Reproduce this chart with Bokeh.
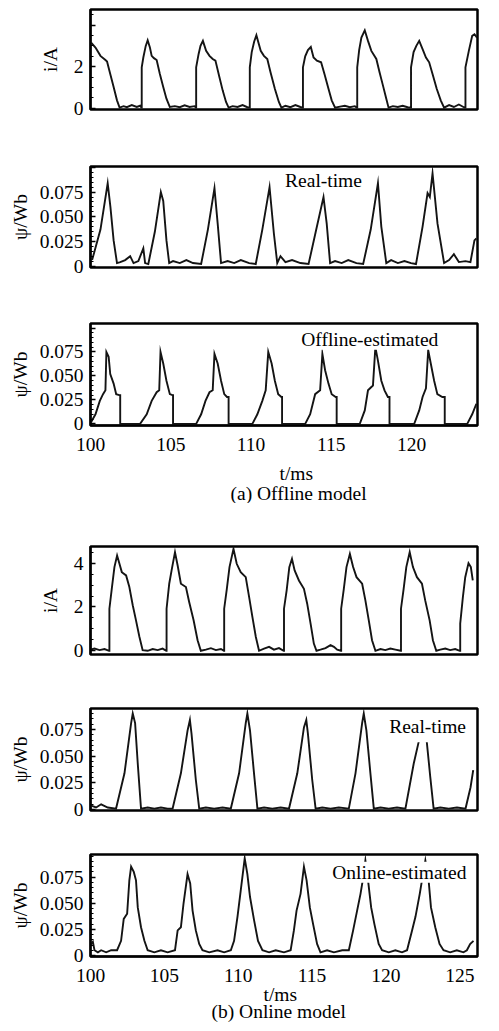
import json
from bokeh.plotting import figure
from bokeh.models import Range1d, FixedTicker, Label, CustomJSTickFormatter, Title
from bokeh.layouts import column
from bokeh.embed import file_html
from bokeh.resources import INLINE

FONT = "Liberation Serif"

# ---------------- data ----------------
# time axis ticks (ms)
X_TICKS = [100, 105, 110, 115, 120, 125]
X_TICK_LABELS = ["100", "105", "110", "115", "120", "125"]

CUR_TICKS = [0, 2, 4]
CUR_TICK_LABELS_OFF = ["0", "2", ""]
CUR_TICK_LABELS_ON = ["0", "2", "4"]

FLUX_TICKS = [0, 0.025, 0.05, 0.075, 0.1]
FLUX_TICK_LABELS = ["0", "0.025", "0.050", "0.075", ""]

# (a) offline model: phase current i/A  (t ms, value)
I_OFF = [
    (100.04, 3.16), (100.31, 2.92), (100.62, 2.52), (100.93, 2.32), (101.03, 2.25), (101.23, 1.65), (101.44, 1.02), (101.65, 0.38), (101.81, 0.03),
    (102.06, 0.10), (102.26, 0.05), (102.57, 0.15), (102.88, 0.06), (103.09, 0.12), (103.17, 0.03),
    (103.19, 0.03), (103.19, 1.97), (103.29, 2.44), (103.44, 3.00), (103.56, 3.27), (103.70, 2.92), (103.81, 2.52), (103.95, 2.41), (104.12, 2.32), (104.32, 1.65), (104.53, 1.02), (104.73, 0.46), (104.94, 0.06),
    (105.25, 0.10), (105.56, 0.05), (105.86, 0.14), (106.17, 0.06), (106.48, 0.10), (106.56, 0.03),
    (106.58, 0.03), (106.58, 1.97), (106.73, 2.60), (106.85, 3.00), (107.00, 3.24), (107.20, 2.76), (107.41, 2.52), (107.61, 2.37), (107.78, 2.29), (108.03, 1.49), (108.23, 0.86), (108.44, 0.30), (108.60, 0.03),
    (108.85, 0.10), (109.16, 0.06), (109.47, 0.15), (109.77, 0.05), (109.90, 0.03),
    (109.92, 0.03), (109.92, 1.97), (110.04, 2.70), (110.19, 3.20), (110.33, 3.51), (110.60, 2.76), (110.80, 2.52), (111.01, 2.37), (111.21, 1.73), (111.48, 0.94), (111.73, 0.30), (111.89, 0.03),
    (112.14, 0.12), (112.45, 0.05), (112.76, 0.15), (113.07, 0.06), (113.21, 0.03),
    (113.23, 0.03), (113.23, 1.97), (113.37, 2.50), (113.54, 2.80), (113.72, 2.95), (113.89, 2.44), (114.10, 2.29), (114.36, 2.21), (114.57, 1.65), (114.82, 0.94), (115.02, 0.38), (115.23, 0.03),
    (115.54, 0.08), (115.84, 0.12), (116.15, 0.05), (116.46, 0.10), (116.58, 0.03),
    (116.61, 0.03), (116.61, 1.97), (116.73, 2.80), (116.87, 3.40), (117.08, 3.75), (117.28, 3.24), (117.49, 2.76), (117.80, 2.37), (118.00, 1.73), (118.21, 1.10), (118.42, 0.46), (118.56, 0.03),
    (118.83, 0.10), (119.14, 0.06), (119.44, 0.12), (119.75, 0.05), (119.94, 0.03),
    (119.96, 0.03), (119.96, 1.97), (120.12, 2.70), (120.29, 3.00), (120.47, 3.24), (120.68, 2.84), (120.89, 2.44), (121.09, 2.21), (121.30, 1.65), (121.56, 0.94), (121.81, 0.38), (122.02, 0.03),
    (122.33, 0.15), (122.63, 0.06), (122.94, 0.18), (123.25, 0.05), (123.33, 0.03),
    (123.35, 0.03), (123.35, 1.97), (123.56, 2.76), (123.77, 3.48), (123.91, 3.56), (124.07, 3.40),
]

# (a) offline model: real-time flux linkage psi/Wb
PSI_RT_OFF = [
    (100.10, 0.006), (100.62, 0.037), (101.07, 0.084), (101.24, 0.060), (101.44, 0.026), (101.65, 0.003),
    (101.85, 0.004), (102.16, 0.006), (102.47, 0.010), (102.68, 0.003), (102.98, 0.005), (103.29, 0.018), (103.40, 0.003), (103.60, 0.002),
    (104.01, 0.035), (104.38, 0.075), (104.53, 0.066), (104.73, 0.026), (104.90, 0.003),
    (105.14, 0.005), (105.56, 0.003), (105.97, 0.006), (106.38, 0.003), (106.89, 0.002),
    (107.31, 0.037), (107.72, 0.079), (107.92, 0.043), (108.13, 0.003),
    (108.54, 0.005), (108.95, 0.003), (109.36, 0.006), (109.88, 0.003), (110.29, 0.002),
    (110.70, 0.037), (111.15, 0.080), (111.42, 0.033), (111.63, 0.003),
    (111.83, 0.010), (112.14, 0.004), (112.55, 0.006), (113.07, 0.003), (113.58, 0.002),
    (114.03, 0.035), (114.51, 0.070), (114.71, 0.043), (114.92, 0.003),
    (115.23, 0.005), (115.64, 0.003), (116.05, 0.006), (116.56, 0.003), (116.98, 0.002),
    (117.45, 0.037), (117.90, 0.084), (118.11, 0.040), (118.42, 0.003),
    (118.72, 0.006), (119.14, 0.003), (119.55, 0.005), (119.96, 0.003), (120.27, 0.002),
    (120.68, 0.040), (120.99, 0.074), (121.13, 0.070), (121.30, 0.094), (121.61, 0.043), (122.02, 0.003),
    (122.33, 0.006), (122.63, 0.012), (122.94, 0.004), (123.35, 0.005), (123.66, 0.004),
    (123.91, 0.026), (124.03, 0.028),
]

# (a) offline model: offline-estimated flux linkage psi/Wb
PSI_EST_OFF = [
    (100.04, 0.002), (100.31, 0.010), (100.58, 0.024), (100.78, 0.031), (100.93, 0.035), (100.99, 0.075), (101.13, 0.070), (101.23, 0.052), (101.44, 0.042), (101.60, 0.031), (101.79, 0.030), (101.85, 0.030), (101.85, 0.0),
    (103.09, 0.0),
    (103.50, 0.010), (103.81, 0.024), (104.12, 0.033), (104.28, 0.035), (104.36, 0.075), (104.53, 0.063), (104.73, 0.045), (104.94, 0.031), (105.10, 0.030), (105.14, 0.030), (105.14, 0.0),
    (106.58, 0.0),
    (106.89, 0.010), (107.16, 0.024), (107.41, 0.033), (107.61, 0.035), (107.72, 0.073), (107.92, 0.063), (108.13, 0.045), (108.33, 0.031), (108.50, 0.028), (108.60, 0.028), (108.60, 0.0),
    (110.08, 0.0),
    (110.39, 0.010), (110.70, 0.024), (110.91, 0.035), (111.07, 0.075), (111.28, 0.063), (111.48, 0.045), (111.69, 0.031), (111.89, 0.028), (111.93, 0.028), (111.93, 0.0),
    (113.37, 0.0),
    (113.68, 0.010), (113.99, 0.031), (114.30, 0.035), (114.44, 0.073), (114.61, 0.056), (114.82, 0.042), (115.02, 0.031), (115.27, 0.028), (115.33, 0.028), (115.33, 0.0),
    (116.77, 0.0),
    (117.08, 0.014), (117.28, 0.035), (117.59, 0.040), (117.74, 0.080), (117.90, 0.066), (118.11, 0.045), (118.31, 0.035), (118.52, 0.028), (118.62, 0.028), (118.62, 0.0),
    (120.16, 0.0),
    (120.47, 0.014), (120.68, 0.028), (120.89, 0.037), (121.03, 0.077), (121.19, 0.063), (121.40, 0.045), (121.60, 0.031), (121.91, 0.028), (122.06, 0.028), (122.06, 0.0),
    (123.46, 0.0),
    (123.77, 0.010), (124.03, 0.021),
]

# (b) online model: phase current i/A
I_ON = [
    (100.00, 0.05), (100.27, 0.10), (100.61, 0.03), (100.95, 0.08), (101.26, 0.00),
    (101.28, 0.00), (101.28, 1.92), (101.44, 2.83), (101.62, 3.82), (101.80, 4.35), (101.96, 3.97), (102.12, 3.59), (102.41, 3.44), (102.63, 2.91), (102.86, 2.08), (103.08, 1.39), (103.31, 0.64), (103.53, 0.03),
    (103.87, 0.00), (104.21, 0.08), (104.55, 0.03), (104.88, 0.10), (105.13, 0.00),
    (105.15, 0.00), (105.15, 1.92), (105.33, 3.06), (105.49, 3.67), (105.72, 4.50), (105.90, 3.89), (106.12, 3.06), (106.46, 2.91), (106.68, 2.23), (106.98, 1.39), (107.25, 0.48), (107.47, 0.00),
    (107.81, 0.05), (108.15, 0.12), (108.49, 0.03), (108.83, 0.08), (109.03, 0.00),
    (109.05, 0.00), (109.05, 1.92), (109.23, 2.83), (109.41, 3.82), (109.68, 4.65), (109.90, 3.97), (110.17, 3.59), (110.51, 3.36), (110.74, 2.45), (110.96, 1.55), (111.19, 0.64), (111.41, 0.00),
    (111.75, 0.10), (112.09, 0.18), (112.42, 0.05), (112.76, 0.12), (113.08, 0.00),
    (113.10, 0.00), (113.10, 1.92), (113.28, 2.76), (113.46, 3.82), (113.64, 4.20), (113.82, 3.67), (114.11, 3.21), (114.45, 2.83), (114.67, 2.15), (114.90, 1.24), (115.12, 0.33), (115.30, 0.00),
    (115.57, 0.05), (115.91, 0.12), (116.25, 0.26), (116.48, 0.18), (116.70, 0.05), (116.95, 0.00),
    (116.97, 0.00), (116.97, 1.92), (117.15, 2.83), (117.33, 3.82), (117.56, 4.42), (117.78, 3.82), (118.01, 3.36), (118.39, 3.06), (118.61, 2.30), (118.84, 1.39), (119.06, 0.48), (119.29, 0.00),
    (119.63, 0.08), (119.96, 0.03), (120.30, 0.10), (120.64, 0.05), (121.00, 0.00),
    (121.02, 0.00), (121.02, 1.92), (121.20, 2.83), (121.38, 3.82), (121.61, 4.50), (121.83, 3.82), (122.10, 3.36), (122.44, 3.06), (122.66, 2.30), (122.96, 1.39), (123.18, 0.48), (123.41, 0.00),
    (123.68, 0.05), (124.02, 0.10), (124.35, 0.03), (124.69, 0.08), (125.00, 0.00),
    (125.03, 0.00), (125.03, 1.24), (125.21, 2.45), (125.37, 3.36), (125.59, 4.00), (125.75, 3.82), (125.88, 3.21),
]

# (b) online model: real-time flux linkage psi/Wb
PSI_RT_ON = [
    (100.00, 0.004), (100.38, 0.002), (100.72, 0.005), (101.17, 0.002), (101.73, 0.001),
    (102.30, 0.034), (102.75, 0.081), (102.86, 0.090), (103.02, 0.081), (103.20, 0.043), (103.42, 0.001),
    (103.87, 0.002), (104.32, 0.001), (104.77, 0.002), (105.22, 0.001), (105.56, 0.001),
    (106.12, 0.034), (106.57, 0.074), (106.73, 0.084), (106.84, 0.071), (107.13, 0.028), (107.36, 0.001),
    (107.81, 0.002), (108.37, 0.001), (108.94, 0.002), (109.50, 0.001),
    (110.06, 0.034), (110.51, 0.081), (110.62, 0.090), (110.80, 0.074), (111.07, 0.034), (111.30, 0.001),
    (111.75, 0.002), (112.31, 0.001), (112.87, 0.002), (113.44, 0.001),
    (114.00, 0.034), (114.45, 0.077), (114.61, 0.084), (114.72, 0.071), (115.01, 0.028), (115.24, 0.001),
    (115.69, 0.002), (116.25, 0.001), (116.81, 0.002), (117.49, 0.001),
    (117.94, 0.034), (118.39, 0.081), (118.50, 0.090), (118.68, 0.074), (118.95, 0.034), (119.18, 0.001),
    (119.63, 0.002), (120.19, 0.001), (120.75, 0.002), (121.32, 0.001),
    (121.88, 0.043), (122.21, 0.063), (122.50, 0.080), (122.77, 0.063), (123.00, 0.031), (123.23, 0.001),
    (123.68, 0.002), (124.25, 0.001), (124.81, 0.002), (125.39, 0.001),
    (125.73, 0.021), (125.91, 0.037),
]

# (b) online model: online-estimated flux linkage psi/Wb
PSI_EST_ON = [
    (100.00, 0.010), (100.16, 0.013), (100.27, 0.005), (100.50, 0.003), (100.72, 0.005), (101.06, 0.003), (101.40, 0.005), (101.80, 0.005),
    (102.07, 0.014), (102.25, 0.035), (102.48, 0.040), (102.63, 0.072), (102.75, 0.085), (102.93, 0.080), (103.08, 0.072), (103.20, 0.046), (103.42, 0.027), (103.65, 0.014), (103.87, 0.005),
    (104.32, 0.003), (104.77, 0.005), (105.22, 0.003), (105.72, 0.005),
    (105.90, 0.024), (106.12, 0.027), (106.30, 0.050), (106.57, 0.078), (106.75, 0.069), (106.91, 0.043), (107.13, 0.024), (107.36, 0.011), (107.58, 0.005),
    (108.04, 0.003), (108.60, 0.005), (109.05, 0.003), (109.50, 0.005),
    (109.72, 0.014), (109.95, 0.037), (110.17, 0.062), (110.44, 0.093), (110.62, 0.078), (110.80, 0.056), (111.07, 0.034), (111.34, 0.014), (111.64, 0.005),
    (112.09, 0.003), (112.54, 0.005), (113.10, 0.003), (113.55, 0.005),
    (113.77, 0.024), (113.95, 0.043), (114.22, 0.059), (114.45, 0.085), (114.63, 0.072), (114.85, 0.046), (115.07, 0.030), (115.34, 0.011), (115.57, 0.003),
    (116.02, 0.005), (116.48, 0.003), (117.04, 0.005), (117.49, 0.005),
    (117.78, 0.024), (118.05, 0.043), (118.28, 0.059), (118.43, 0.072), (118.61, 0.091), (118.79, 0.072), (119.00, 0.046), (119.22, 0.030), (119.51, 0.011), (119.74, 0.005),
    (120.19, 0.003), (120.64, 0.005), (121.09, 0.003), (121.43, 0.005),
    (121.77, 0.024), (122.00, 0.037), (122.29, 0.059), (122.44, 0.072), (122.67, 0.091), (122.89, 0.072), (123.05, 0.046), (123.34, 0.027), (123.63, 0.011), (123.90, 0.005),
    (124.35, 0.003), (124.80, 0.005), (125.25, 0.003), (125.48, 0.005),
    (125.70, 0.011), (125.93, 0.014),
]

# ---------------- helpers ----------------
LINE_COLOR = "#141414"
FS = "19.5px"


def lookup_formatter(ticks, labels):
    m = {f"{t:.3f}": s for t, s in zip(ticks, labels)}
    code = "const m = %s; const k = tick.toFixed(3); return (k in m) ? m[k] : '';" % json.dumps(m)
    return CustomJSTickFormatter(code=code)


def make_fig(x_rng, y_rng, height, bl, br, bt, bb, show_x, x_standoff=12):
    p = figure(width=499, height=height,
               x_range=Range1d(*x_rng), y_range=Range1d(*y_rng),
               output_backend="svg", toolbar_location=None,
               x_axis_location="below" if show_x else None,
               min_border_left=bl, min_border_right=br,
               min_border_top=bt, min_border_bottom=bb)
    p.grid.visible = False
    p.background_fill_color = "white"
    p.border_fill_color = "white"
    p.outline_line_color = "black"
    p.outline_line_width = 2.5
    p.outline_line_alpha = 1.0
    if show_x:
        ax = p.xaxis[0]
        ax.ticker = FixedTicker(ticks=X_TICKS, minor_ticks=[])
        ax.formatter = lookup_formatter(X_TICKS, X_TICK_LABELS)
        ax.major_tick_in = 0
        ax.major_tick_out = 0
        ax.minor_tick_in = 0
        ax.minor_tick_out = 0
        ax.axis_line_width = 2
        ax.major_label_text_font = FONT
        ax.major_label_text_font_size = FS
        ax.major_label_text_color = "black"
        ax.major_label_standoff = x_standoff
    return p


def style_y(p, ticks, labels, minor, label, standoff):
    ax = p.yaxis[0]
    ax.ticker = FixedTicker(ticks=ticks, minor_ticks=minor)
    ax.formatter = lookup_formatter(ticks, labels)
    ax.major_tick_in = 5
    ax.major_tick_out = 0
    ax.minor_tick_in = 3
    ax.minor_tick_out = 0
    ax.major_tick_line_width = 1.6
    ax.minor_tick_line_width = 1.2
    ax.axis_line_width = 2
    ax.major_label_text_font = FONT
    ax.major_label_text_font_size = FS
    ax.major_label_text_color = "black"
    ax.major_label_standoff = 7
    ax.axis_label = label
    ax.axis_label_text_font = FONT
    ax.axis_label_text_font_size = FS
    ax.axis_label_text_font_style = "normal"
    ax.axis_label_text_color = "black"
    ax.axis_label_standoff = standoff


def add_line(p, data):
    t = [d[0] for d in data]
    v = [d[1] for d in data]
    p.line(t, v, line_color=LINE_COLOR, line_width=1.9, line_join="miter")


def below_text(p, text, offset, standoff):
    p.add_layout(Title(text=text, align="left", offset=offset, standoff=standoff,
                       text_font=FONT, text_font_size=FS, text_font_style="normal",
                       text_color="black"), "below")


def tag(p, text, x, y, pad):
    p.add_layout(Label(x=x, y=y, text=text, text_align="center", text_baseline="middle",
                       text_font=FONT, text_font_size=FS, text_color="black",
                       background_fill_color="white", background_fill_alpha=1.0,
                       padding=pad))


CUR_MINOR = [0.5, 1.0, 1.5, 2.5, 3.0, 3.5, 4.5]
FLUX_MINOR = [k * 0.005 for k in range(1, 20) if k % 5 != 0]

X_OFF = (100, 124.1)
X_ON = (100, 126.2)

# ---- (a) offline ----
p1 = make_fig(X_OFF, (-0.06, 4.75), 137, 90, 18, 9, 28, False)
style_y(p1, CUR_TICKS, CUR_TICK_LABELS_OFF, CUR_MINOR, "i/A", 10)
add_line(p1, I_OFF)

p2 = make_fig(X_OFF, (-0.0015, 0.101), 158, 90, 18, 29, 28, False)
style_y(p2, FLUX_TICKS, FLUX_TICK_LABELS, FLUX_MINOR, "\u03c8/Wb", 6)
add_line(p2, PSI_RT_OFF)
tag(p2, "Real-time", 114.51, 0.0865, 0)

p3 = make_fig(X_OFF, (-0.0017, 0.1047), 208, 90, 18, 28, 78, True, 12)
style_y(p3, FLUX_TICKS, FLUX_TICK_LABELS, FLUX_MINOR, "\u03c8/Wb", 6)
add_line(p3, PSI_EST_OFF)
tag(p3, "Offline-estimated", 117.39, 0.0882, 0)
below_text(p3, "t/ms", 189, 14)
below_text(p3, "(a) Offline model", 140, -20)

# ---- (b) online ----
p4 = make_fig(X_ON, (-0.17, 4.76), 179, 89, 22, 43, 28, False)
style_y(p4, CUR_TICKS, CUR_TICK_LABELS_ON, CUR_MINOR, "i/A", 10)
add_line(p4, I_ON)

p5 = make_fig(X_ON, (-0.0008, 0.0947), 148, 89, 22, 26, 20, False)
style_y(p5, FLUX_TICKS, FLUX_TICK_LABELS, FLUX_MINOR, "\u03c8/Wb", 6)
add_line(p5, PSI_RT_ON)
tag(p5, "Real-time", 122.82, 0.0775, 5)

p6 = make_fig(X_ON, (-0.001, 0.0967), 201, 89, 22, 24, 75, True, 12)
style_y(p6, FLUX_TICKS, FLUX_TICK_LABELS, FLUX_MINOR, "\u03c8/Wb", 6)
add_line(p6, PSI_EST_ON)
tag(p6, "Online-estimated", 120.91, 0.0798, 0)
below_text(p6, "t/ms", 173, -5)
below_text(p6, "(b) Online model", 121, -8)

layout = column(p1, p2, p3, p4, p5, p6, spacing=0)

open("out.html", "w").write(file_html(layout, INLINE))
